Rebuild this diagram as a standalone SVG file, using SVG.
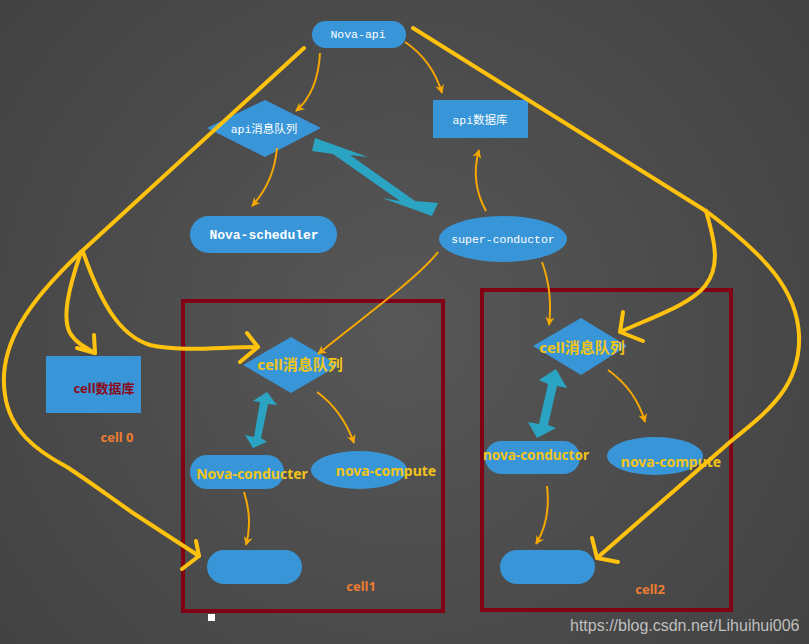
<svg xmlns="http://www.w3.org/2000/svg" width="809" height="644" viewBox="0 0 809 644">
<defs>
<radialGradient id="bg" cx="400" cy="330" r="520" gradientUnits="userSpaceOnUse">
<stop offset="0" stop-color="#575757"/>
<stop offset="1" stop-color="#424242"/>
</radialGradient>
<marker id="oa" viewBox="0 0 10 10" refX="9" refY="5" markerWidth="9" markerHeight="9" markerUnits="userSpaceOnUse" orient="auto">
<path d="M0,0 L10,5 L0,10 L3,5 z" fill="#f5a800"/>
</marker>
<style>
.blue{fill:#3896d8}
.cyan{fill:#2ba3c2}
.frame{fill:none;stroke:#820014;stroke-width:4}
.thin{fill:none;stroke:#f5a800;stroke-width:2;marker-end:url(#oa)}
.thick{fill:none;stroke:#ffc20e;stroke-width:4;stroke-linecap:round;stroke-linejoin:round}
.mono{font-family:"Liberation Mono","Noto Sans CJK SC",monospace;font-size:11.5px;fill:#ffffff;text-anchor:middle;dominant-baseline:central}
.yl{font-family:"Noto Sans","Noto Sans CJK SC",sans-serif;font-weight:bold;font-size:14px;fill:#f2c419;text-anchor:middle;dominant-baseline:central}
.lab{font-family:"Noto Sans",sans-serif;font-weight:bold;font-size:13px;fill:#ed7d31;text-anchor:middle;dominant-baseline:central}
</style>
</defs>
<rect width="809" height="644" fill="url(#bg)"/>

<g id="cell1-frame"><rect class="frame" x="183" y="301" width="260" height="310"/></g>
<g id="cell2-frame"><rect class="frame" x="482" y="290" width="249" height="320"/></g>

<g id="nova-api"><rect class="blue" x="312" y="21" width="94" height="27" rx="13.5"/><text class="mono" x="358" y="34.5">Nova-api</text></g>
<g id="api-mq"><polygon class="blue" points="265,100 321,128 265,157 207,128"/><text class="mono" x="264" y="129">api消息队列</text></g>
<g id="api-db"><rect class="blue" x="433" y="100" width="95" height="38"/><text class="mono" x="480" y="120">api数据库</text></g>
<g id="nova-scheduler"><rect class="blue" x="190" y="216" width="147" height="37" rx="18.5"/><text class="mono" x="264" y="235" style="font-weight:bold;font-size:13px">Nova-scheduler</text></g>
<g id="super-conductor"><ellipse class="blue" cx="503" cy="239" rx="64" ry="23"/><text class="mono" x="503" y="239">super-conductor</text></g>

<g id="cell-db"><rect class="blue" x="46" y="356" width="95" height="57"/><text x="104" y="388" style="font-family:'Noto Sans','Noto Sans CJK SC',sans-serif;font-weight:bold;font-size:13px;fill:#8b0a1a;text-anchor:middle;dominant-baseline:central">cell数据库</text></g>
<g id="cell0-label"><text class="lab" x="117" y="437">cell 0</text></g>

<g id="cell1-mq"><polygon class="blue" points="291,337 339,365 291,393 243,365"/><text class="yl" x="300" y="364" style="font-size:15px">cell消息队列</text></g>
<g id="cell1-conducter"><rect class="blue" x="190" y="455" width="94" height="34" rx="17"/><text class="yl" x="252" y="473">Nova-conducter</text></g>
<g id="cell1-compute"><ellipse class="blue" cx="359" cy="470" rx="48" ry="19"/><text class="yl" x="386" y="470">nova-compute</text></g>
<g id="cell1-db"><rect class="blue" x="207" y="550" width="95" height="34" rx="17"/></g>
<g id="cell1-label"><text class="lab" x="361" y="586">cell1</text></g>

<g id="cell2-mq"><polygon class="blue" points="581,318 627,346 581,375 533,346"/><text class="yl" x="582" y="347" style="font-size:15px">cell消息队列</text></g>
<g id="cell2-conductor"><rect class="blue" x="485" y="441" width="95" height="33" rx="16.5"/><text class="yl" x="536" y="455" style="font-size:13.5px">nova-conductor</text></g>
<g id="cell2-compute"><ellipse class="blue" cx="655" cy="456" rx="48" ry="19"/><text class="yl" x="671" y="461">nova-compute</text></g>
<g id="cell2-db"><rect class="blue" x="500" y="550" width="95" height="34" rx="17"/></g>
<g id="cell2-label"><text class="lab" x="650" y="589">cell2</text></g>

<g id="connectors">
<path class="thin" d="M320,53 Q318,92 296,111"/>
<path class="thin" d="M405,42 Q432,60 442,93"/>
<path class="thin" d="M277,148 Q274,182 252,206"/>
<path class="thin" d="M486,211 Q470,182 479,150"/>
<path class="thin" d="M438,252 C420,276 360,320 318,354"/>
<path class="thin" d="M542,262 Q553,292 549,325"/>
<path class="thin" d="M317,392 Q342,410 354,443"/>
<path class="thin" d="M244,492 Q253,520 246,545"/>
<path class="thin" d="M608,370 Q636,390 645,422"/>
<path class="thin" d="M547,486 Q551,520 536,544"/>

<polygon class="cyan" points="315,138 368,157 350,155 415,201 438,203 432,216 382,198 400,201 333,154 312,151"/>
<polygon class="cyan" points="267,392 277,405 268,404 261,438 267,442 253,448 245,435 254,437 260,402 253,401"/>
<polygon class="cyan" points="556,369 567,388 557,386 548,425 556,428 537,438 528,422 539,424 548,384 539,380"/>

<path class="thick" d="M304,48 L81,252 C30,300 -3,345 5,395 C10,430 35,450 67,467 C90,482 110,497 133,513 L199,556"/>
<path class="thick" d="M196,541 L199,556 L182,569"/>
<path class="thick" d="M81,252 C68,290 62,318 70,333 C76,343 86,348 95,353"/>
<path class="thick" d="M94,335 L95,353 L77,348"/>
<path class="thick" d="M83,252 C100,300 118,335 150,345 C180,352 220,347 258,347"/>
<path class="thick" d="M247,333 L258,347 L240,362"/>

<path class="thick" d="M413,28 L706,211"/>
<path class="thick" d="M706,211 C716,245 720,267 705,286 C690,305 650,318 620,332"/>
<path class="thick" d="M623,312 L620,332 L643,341"/>
<path class="thick" d="M706,211 C765,255 797,290 799,335 C801,385 770,410 730,442 L597,558"/>
<path class="thick" d="M592,538 L597,558 L618,562"/>
</g>

<g id="marker-square"><rect x="208" y="614" width="7" height="7" fill="#ffffff"/></g>
<g id="watermark"><text x="570" y="631" style="font-family:'Liberation Sans',Arial,sans-serif;font-size:16px;fill:#d8d8d8;fill-opacity:0.85">https://blog.csdn.net/Lihuihui006</text></g>
</svg>
